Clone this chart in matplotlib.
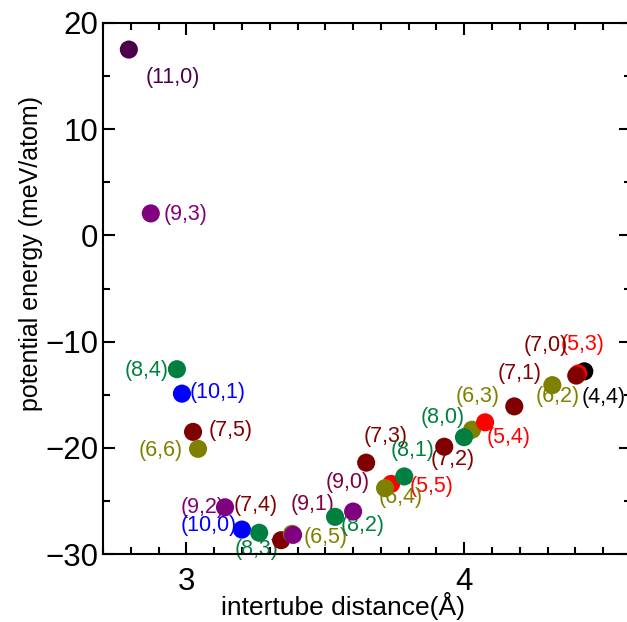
import matplotlib
matplotlib.use("Agg")
import matplotlib.pyplot as plt
from matplotlib.ticker import MultipleLocator

# donnees : (n,m), distance (A), energie (meV/atom)
labels = ["(11,0)", "(9,3)", "(8,4)", "(10,1)", "(7,5)", "(6,6)", "(9,2)",
          "(10,0)", "(8,3)", "(7,4)", "(6,5)", "(9,1)", "(8,2)", "(9,0)",
          "(7,3)", "(5,5)", "(6,4)", "(8,1)", "(7,2)", "(6,3)", "(8,0)",
          "(5,4)", "(7,1)", "(6,2)", "(4,4)", "(5,3)", "(7,0)"]
distance = [2.793, 2.872, 2.966, 2.984, 3.024, 3.042, 3.139,
            3.200, 3.262, 3.341, 3.380, 3.384, 3.535, 3.600,
            3.647, 3.737, 3.715, 3.784, 3.928, 4.028, 3.999,
            4.075, 4.180, 4.317, 4.432, 4.410, 4.403]
energy = [17.5, 2.07, -12.6, -14.9, -18.5, -20.1, -25.6,
          -27.7, -28.0, -28.7, -28.1, -28.2, -26.5, -26.0,
          -21.4, -23.4, -23.8, -22.7, -19.9, -18.3, -19.0,
          -17.6, -16.1, -14.1, -12.8, -13.0, -13.2]

purple_d = "#4b0049"
purple = "#800080"
green = "#008040"
blue = "#0000ff"
dred = "#800000"
olive = "#808000"
red = "#ff0000"
mag = "#800040"
colors = [purple_d, purple, green, blue, dred, olive, purple,
          blue, green, dred, olive, purple, green, purple,
          dred, red, olive, green, dred, olive, green,
          red, dred, olive, "black", red, dred]
text_colors = list(colors)
text_colors[11] = mag   # (9,1)
text_colors[13] = mag   # (9,0)

# decalage des etiquettes (points typographiques)
offsets = [(32, -20), (25, -1), (-22, -1), (26, 1), (27, 1), (-27, -1), (-16, 0),
           (-24, 3), (-2, -12), (-18, 25), (24, -3), (14, 22), (20, -6), (-4, 21),
           (14, 19), (29, -2), (11, -7), (6, 19), (6, -9), (4, 24), (-15, 14),
           (17, -11), (4, 24), (4, -8), (14, -19), (3, 21), (-22, 22)]

plt.rcParams['font.family'] = ['Liberation Sans', 'DejaVu Sans']

fig = plt.figure(figsize=(6.27, 6.22), dpi=100)
ax = fig.add_axes([103/627, 68/622, 528/627, 531/622])

for i in range(len(labels)):
    ax.scatter(distance[i], energy[i], s=170, color=colors[i],
               edgecolors="none", zorder=3 + i * 0.01)
    ax.annotate(labels[i], (distance[i], energy[i]), xytext=offsets[i],
                textcoords="offset points", ha="center", va="center",
                fontsize=15.5, color=text_colors[i], zorder=2)

ax.set_xlim(2.7, 4.6)
ax.set_ylim(-30, 20)
ax.set_xticks([3, 4])
ax.set_yticks([-30, -20, -10, 0, 10, 20])
ax.xaxis.set_minor_locator(MultipleLocator(0.1))
ax.yaxis.set_minor_locator(MultipleLocator(5))
ax.tick_params(which="both", direction="in", top=True, right=True, width=1.5)
ax.tick_params(which="major", length=8.6, labelsize=22.5)
ax.tick_params(which="minor", length=4.8)
ax.tick_params(axis="y", pad=3.5)
ax.tick_params(axis="x", pad=9)
for s in ax.spines.values():
    s.set_linewidth(1.5)

ax.set_xlabel("intertube distance(Å)", fontsize=19)
ax.set_ylabel("potential energy (meV/atom)", fontsize=18)
ax.xaxis.set_label_coords(0.454, -0.072)
ax.yaxis.set_label_coords(-0.113, 0.565)

fig.savefig("out.png", dpi=100)
